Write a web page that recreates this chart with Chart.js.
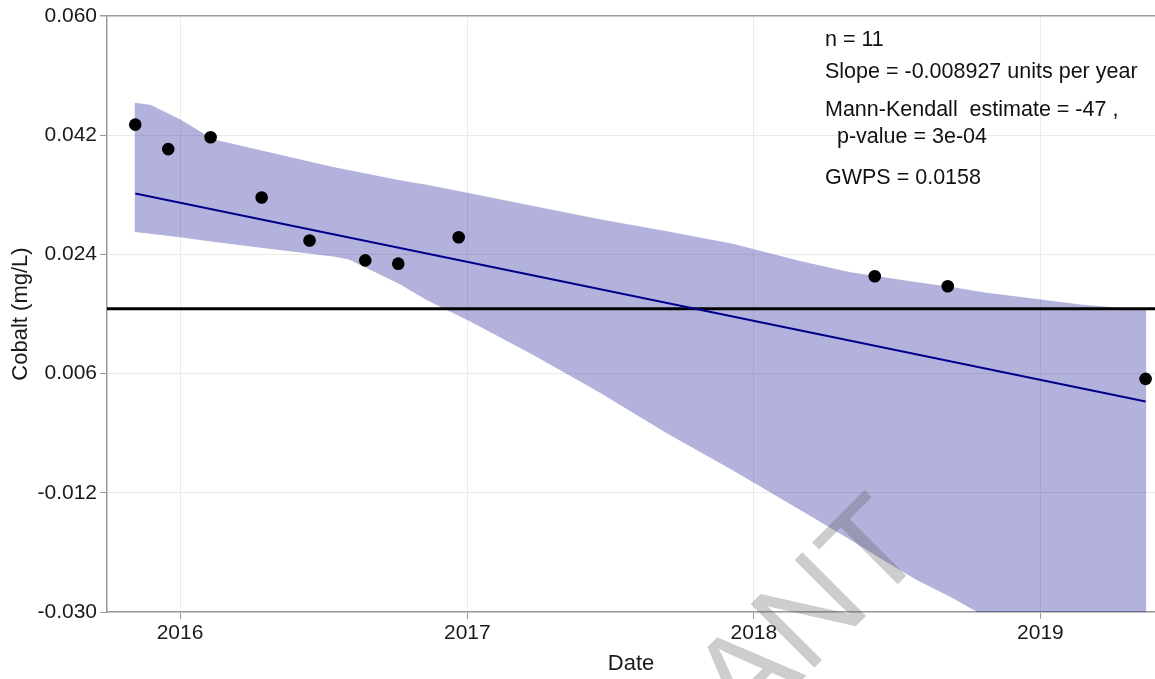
<!DOCTYPE html>
<html>
<head>
<meta charset="utf-8">
<script src="https://cdn.jsdelivr.net/npm/chart.js@4.4.1/dist/chart.umd.min.js"></script>
<style>
  html, body { margin: 0; padding: 0; background: #ffffff; overflow: hidden; }
  #wrap { width: 1155px; height: 679px; position: relative; }
  canvas { display: block; }
</style>
</head>
<body>
<div id="wrap"><canvas id="chart" width="1155" height="679"></canvas></div>
<script>
// Sample dates and measured cobalt concentrations (mg/L)
const sampleDates = ['2015-11-05', '2015-12-17', '2016-02-09', '2016-04-14', '2016-06-14',
                     '2016-08-24', '2016-10-05', '2016-12-21', '2018-06-04', '2018-09-05', '2019-05-15'];
const cobalt = [0.0436, 0.0399, 0.0417, 0.0326, 0.0261, 0.0231, 0.0226, 0.0266, 0.0207, 0.0192, 0.0052];

// Sen slope trend line end points
const trendDates = ['2015-11-05', '2019-05-15'];
const trendValues = [0.0332, 0.0018];

// Confidence band around the trend
const bandDates = ['2015-11-04', '2015-11-24', '2016-01-01', '2016-02-12', '2016-04-21', '2016-07-14', '2016-08-04',
                   '2016-10-07', '2016-11-10', '2017-01-01', '2017-03-26', '2017-06-19', '2017-09-12',
                   '2017-12-05', '2018-03-01', '2018-05-04', '2018-06-14', '2018-07-28', '2018-09-08',
                   '2018-10-20', '2019-02-24', '2019-05-16'];
const bandUpper = [0.0469, 0.0466, 0.0444, 0.0414, 0.0395, 0.0372, 0.0367, 0.0352, 0.0345, 0.0333, 0.0313, 0.0293,
                   0.0275, 0.0256, 0.0230, 0.0213, 0.0206, 0.0198, 0.0191, 0.0183, 0.0164, 0.0156];
const bandLower = [0.0274, 0.0271, 0.0266, 0.0259, 0.0249, 0.0237, 0.0232, 0.0195, 0.0171, 0.0141, 0.0088, 0.0031,
                   -0.0030, -0.0086, -0.0146, -0.0191, -0.0221, -0.0252, -0.0277, -0.0305, -0.0391, -0.0445];

// Groundwater protection standard
const gwps = 0.0158;

// Axis ticks and limits
const yTicks = [-0.030, -0.012, 0.006, 0.024, 0.042, 0.060];
const yearTicks = ['2016-01-01', '2017-01-01', '2018-01-01', '2019-01-01'];
const xLimits = ['2015-09-30', '2019-05-27'];

// Statistics block text
const statLines = ['n = 11', 'Slope = -0.008927 units per year', 'Mann-Kendall  estimate = -47 ,',
                   '  p-value = 3e-04', 'GWPS = 0.0158'];
const watermarkText = 'ANT';

const FONT = "'Liberation Sans', Arial, Helvetica, sans-serif";
const t = s => Date.parse(s + 'T00:00:00Z');
const xMin = t(xLimits[0]);
const xMax = t(xLimits[1]);

const pts = sampleDates.map((d, i) => ({ x: t(d), y: cobalt[i] }));
const trend = trendDates.map((d, i) => ({ x: t(d), y: trendValues[i] }));
const upper = bandDates.map((d, i) => ({ x: t(d), y: bandUpper[i] }));
const lower = bandDates.map((d, i) => ({ x: t(d), y: bandLower[i] }));
const gwpsLine = [{ x: xMin, y: gwps }, { x: xMax, y: gwps }];

const statsPlugin = {
  id: 'statsText',
  afterDatasetsDraw(chart) {
    const ctx = chart.ctx;
    ctx.save();
    ctx.font = '21.5px ' + FONT;
    ctx.fillStyle = '#111111';
    ctx.textAlign = 'left';
    ctx.textBaseline = 'alphabetic';
    const baselines = [46, 78, 116, 143, 184];
    statLines.forEach((s, i) => ctx.fillText(s, 825, baselines[i]));
    ctx.restore();
  }
};

// Diagonal watermark stamped over the page
const watermarkPlugin = {
  id: 'watermark',
  afterDraw(chart) {
    const ctx = chart.ctx;
    ctx.save();
    ctx.font = '131px ' + FONT;
    ctx.fillStyle = 'rgba(90, 90, 90, 0.30)';
    ctx.textAlign = 'left';
    ctx.textBaseline = 'alphabetic';
    ctx.translate(745, 737);
    ctx.rotate(-Math.PI / 4);
    ctx.fillText(watermarkText, 0, 0);
    ctx.restore();
  }
};

new Chart(document.getElementById('chart'), {
  type: 'line',
  data: {
    datasets: [
      { label: 'Samples', data: pts, showLine: false, pointRadius: 6.3, pointHoverRadius: 6.3,
        pointBackgroundColor: '#000000', pointBorderWidth: 0, order: 0 },
      { label: 'Trend', data: trend, borderColor: '#00008B', borderWidth: 2, pointRadius: 0,
        fill: false, tension: 0, order: 1 },
      { label: 'GWPS', data: gwpsLine, borderColor: '#000000', borderWidth: 3, pointRadius: 0,
        fill: false, order: 2 },
      { label: 'Upper', data: upper, borderWidth: 0, borderColor: 'rgba(0,0,0,0)', pointRadius: 0,
        backgroundColor: 'rgba(0, 0, 139, 0.30)', fill: '+1', tension: 0, order: 3 },
      { label: 'Lower', data: lower, borderWidth: 0, borderColor: 'rgba(0,0,0,0)', pointRadius: 0,
        fill: false, tension: 0, order: 4 }
    ]
  },
  options: {
    responsive: false,
    animation: false,
    devicePixelRatio: 1,
    layout: { autoPadding: false, padding: { top: 16, right: 0, left: 0, bottom: 0 } },
    plugins: { legend: { display: false }, tooltip: { enabled: false } },
    events: [],
    scales: {
      x: {
        type: 'linear',
        min: xMin,
        max: xMax,
        afterBuildTicks(scale) { scale.ticks = yearTicks.map(d => ({ value: t(d) })); },
        afterFit(scale) { scale.height = 67; },
        ticks: {
          callback: v => String(new Date(v).getUTCFullYear()),
          font: { family: FONT, size: 21 }, color: '#1a1a1a', padding: 2, maxRotation: 0
        },
        grid: { color: '#ebebeb', lineWidth: 1, tickColor: '#9a9a9a', tickLength: 7 },
        border: { color: '#9a9a9a', width: 1.5 },
        title: { display: true, text: 'Date', font: { family: FONT, size: 22 }, color: '#1a1a1a',
                 padding: { top: 0, bottom: 2 } }
      },
      y: {
        type: 'linear',
        min: -0.030,
        max: 0.060,
        afterBuildTicks(scale) { scale.ticks = yTicks.map(v => ({ value: v })); },
        afterFit(scale) { scale.width = 107; },
        ticks: {
          callback: v => v.toFixed(3),
          font: { family: FONT, size: 21 }, color: '#1a1a1a', padding: 3
        },
        grid: {
          color: c => (c.tick && Math.abs(c.tick.value - 0.060) < 1e-9) ? '#9a9a9a' : '#ebebeb',
          lineWidth: c => (c.tick && Math.abs(c.tick.value - 0.060) < 1e-9) ? 1.5 : 1,
          tickColor: '#9a9a9a', tickLength: 7
        },
        border: { color: '#9a9a9a', width: 1.5 },
        title: { display: true, text: 'Cobalt (mg/L)', font: { family: FONT, size: 22 }, color: '#1a1a1a',
                 padding: { top: 8, bottom: 0 } }
      }
    }
  },
  plugins: [statsPlugin, watermarkPlugin]
});
</script>
</body>
</html>
